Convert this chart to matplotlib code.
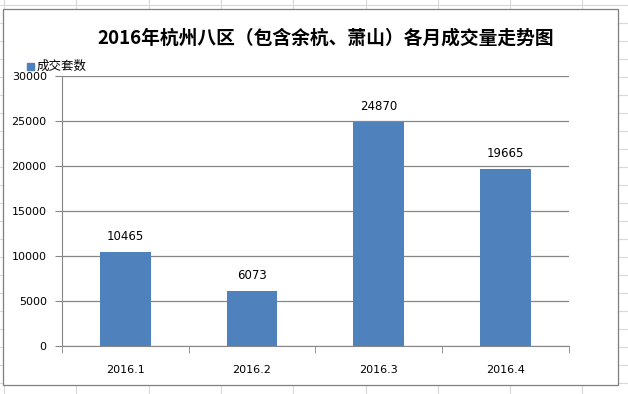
import matplotlib.pyplot as plt
from matplotlib.patches import Rectangle
import numpy as np

plt.rcParams['font.family'] = ['Noto Sans CJK SC', 'DejaVu Sans']

# --- Data ---
months = ["2016.1", "2016.2", "2016.3", "2016.4"]
deals = [10465, 6073, 24870, 19665]
series_name = "成交套数"
title = "2016年杭州八区（包含余杭、萧山）各月成交量走势图"
y_ticks = [0, 5000, 10000, 15000, 20000, 25000, 30000]

bar_color = "#4F81BD"
grid_color = "#868686"

fig = plt.figure(figsize=(6.28, 3.94), dpi=100)

# spreadsheet background behind the chart
bg = fig.add_axes([0, 0, 1, 1], zorder=0)
bg.set_xlim(0, 628)
bg.set_ylim(394, 0)
bg.set_xticks(np.arange(4, 628, 72.3))
bg.set_yticks(np.arange(5, 394, 18))
bg.set_axisbelow(True)
bg.grid(True, color="#D9D9D9", linewidth=0.8, zorder=0)
bg.tick_params(length=0, labelleft=False, labelbottom=False)
for s in bg.spines.values():
    s.set_visible(False)
bg.add_patch(Rectangle((3, 9), 615, 376, facecolor="white",
                       edgecolor="#7F7F7F", linewidth=0.9, zorder=5))

# --- Chart ---
ax = fig.add_axes([0.0987, 0.123, 0.807, 0.684], zorder=1)
ax.patch.set_alpha(0)
x = np.arange(len(months))
ax.bar(x, deals, width=0.4, color=bar_color, zorder=3)
for xi, v in zip(x, deals):
    ax.text(xi, v + 1000, str(v), ha="center", va="bottom",
            fontsize=8.5, family="DejaVu Sans", color="#000000")

ax.set_xlim(-0.5, 3.5)
ax.set_ylim(0, 30000)
ax.set_yticks(y_ticks)
ax.set_yticklabels([str(t) for t in y_ticks], fontsize=8, family="DejaVu Sans")
ax.set_xticks(x)
ax.set_xticklabels(months, fontsize=8, family="DejaVu Sans")
ax.set_xticks(np.arange(-0.5, 4, 1), minor=True)
ax.tick_params(axis="x", which="major", length=0, pad=14)
ax.tick_params(axis="x", which="minor", length=5, color=grid_color)
ax.tick_params(axis="y", length=5, color=grid_color, pad=6)
ax.grid(True, axis="y", color=grid_color, linewidth=0.9, zorder=0)
for side in ["top", "right"]:
    ax.spines[side].set_visible(False)
for side in ["left", "bottom"]:
    ax.spines[side].set_color(grid_color)

fig.text(0.518, 0.904, title, ha="center", va="center",
         fontsize=13.5, fontweight="bold", zorder=2)
fig.add_artist(Rectangle((0.043, 0.822), 0.011, 0.018, color=bar_color,
                         transform=fig.transFigure, zorder=2))
fig.text(0.059, 0.831, series_name, ha="left", va="center", fontsize=9, zorder=2)

fig.savefig("out.png", dpi=100)
